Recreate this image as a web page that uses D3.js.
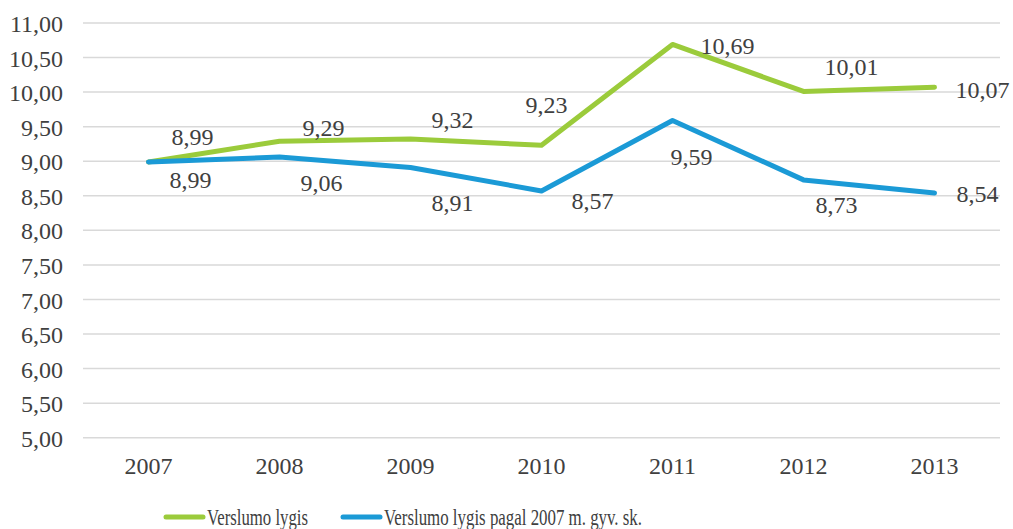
<!DOCTYPE html>
<html>
<head>
<meta charset="utf-8">
<script src="https://cdnjs.cloudflare.com/ajax/libs/d3/7.8.5/d3.min.js"></script>
<style>
  body { margin: 0; background: #fff; }
  text { font-family: "Liberation Serif", "Times New Roman", serif; fill: #404040; }
</style>
</head>
<body>
<script>
// ----------------------------------- DATA --------------------------------------------
var years = ['2007', '2008', '2009', '2010', '2011', '2012', '2013']
var verslumas = [8.99, 9.29, 9.32, 9.23, 10.69, 10.01, 10.07]
var verslumas2007 = [8.99, 9.06, 8.91, 8.57, 9.59, 8.73, 8.54]
var yTicks = [5, 5.5, 6, 6.5, 7, 7.5, 8, 8.5, 9, 9.5, 10, 10.5, 11]
var seriesNames = ['Verslumo lygis', 'Verslumo lygis pagal 2007 m. gyv. sk.']

// label nudges (px) like the hand-placed labels in the original
var greenLabelShift = [[44, -25], [44, -13], [42, -19], [5, -40], [55, 1], [48, -25], [48, 3]]
var blueLabelShift = [[42, 18], [42, 26], [42, 35], [51, 10], [19, 36], [33, 25], [43, 1]]

// ----------------------------------- SVG --------------------------------------------
var width = 1013
var height = 529
var plotLeft = 83, plotRight = 1000, plotTop = 23, plotBottom = 437.7

var svg = d3.select('body')
			.append('svg')
			.attr('width', width)
			.attr('height', height)

var x = d3.scaleBand()
			.domain(years)
			.range([plotLeft, plotRight])

var y = d3.scaleLinear()
			.domain([5, 11])
			.range([plotBottom, plotTop])

var fmt = function(v){ return d3.format('.2f')(v).replace('.', ',') }

// ----------------------------------- GRID + AXES --------------------------------------------
svg.append('g')
	.selectAll('line')
	.data(yTicks)
	.enter()
	.append('line')
	.attr('x1', plotLeft)
	.attr('x2', plotRight)
	.attr('y1', function(d){ return y(d) })
	.attr('y2', function(d){ return y(d) })
	.attr('stroke', '#d9d9d9')
	.attr('stroke-width', 1.5)

var yAxis = svg.append('g')
	.attr('transform', 'translate(' + (plotLeft + 2) + ',0)')
	.call(d3.axisLeft(y).tickValues(yTicks).tickFormat(fmt).tickSize(0).tickPadding(22))
yAxis.select('.domain').remove()
yAxis.selectAll('text')
	.style('font-size', '24px')
	.style('font-family', '"Liberation Serif", serif')
	.attr('fill', '#404040')
	.attr('dy', '0.36em')

var xAxis = svg.append('g')
	.attr('transform', 'translate(0,' + plotBottom + ')')
	.call(d3.axisBottom(x).tickSize(0).tickPadding(19))
xAxis.select('.domain').remove()
xAxis.selectAll('text')
	.style('font-size', '24px')
	.style('font-family', '"Liberation Serif", serif')
	.attr('fill', '#404040')

// ----------------------------------- LINES --------------------------------------------
var line = d3.line()
	.x(function(d, i){ return x(years[i]) + x.bandwidth() / 2 })
	.y(function(d){ return y(d) })

var series = [
	{ values: verslumas, color: '#9bcb3b', shift: greenLabelShift },
	{ values: verslumas2007, color: '#1b9ad6', shift: blueLabelShift }
]

series.forEach(function(s){
	svg.append('path')
		.datum(s.values)
		.attr('d', line)
		.attr('fill', 'none')
		.attr('stroke', s.color)
		.attr('stroke-width', 5)
		.attr('stroke-linecap', 'round')
		.attr('stroke-linejoin', 'round')
})

series.forEach(function(s){
	svg.append('g')
		.selectAll('text')
		.data(s.values)
		.enter()
		.append('text')
		.attr('x', function(d, i){ return x(years[i]) + x.bandwidth() / 2 + s.shift[i][0] })
		.attr('y', function(d, i){ return y(d) + s.shift[i][1] })
		.attr('dy', '0.34em')
		.attr('text-anchor', 'middle')
		.style('font-size', '24px')
		.text(fmt)
})

// ----------------------------------- LEGEND --------------------------------------------
var legendItems = [
	{ name: seriesNames[0], color: '#9bcb3b', x: 166, w: 101 },
	{ name: seriesNames[1], color: '#1b9ad6', x: 343, w: 258 }
]

var legend = svg.append('g')
	.selectAll('g')
	.data(legendItems)
	.enter()
	.append('g')

legend.append('line')
	.attr('x1', function(d){ return d.x })
	.attr('x2', function(d){ return d.x + 37 })
	.attr('y1', 517)
	.attr('y2', 517)
	.attr('stroke', function(d){ return d.color })
	.attr('stroke-width', 5)
	.attr('stroke-linecap', 'round')

legend.append('text')
	.attr('x', function(d){ return d.x + 41 })
	.attr('y', 525)
	.attr('textLength', function(d){ return d.w })
	.attr('lengthAdjust', 'spacingAndGlyphs')
	.style('font-size', '24px')
	.text(function(d){ return d.name })
</script>
</body>
</html>
